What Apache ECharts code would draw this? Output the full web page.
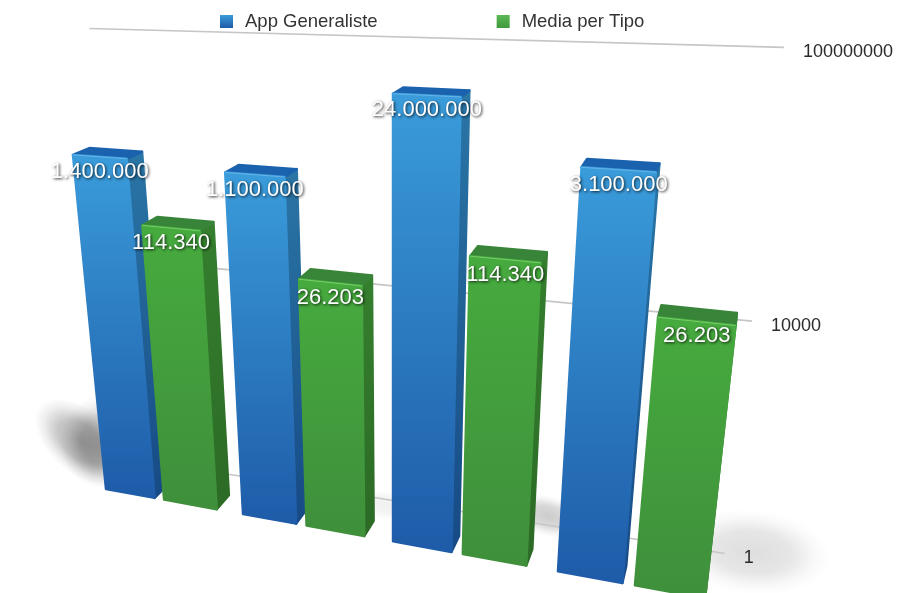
<!DOCTYPE html>
<html>
<head>
<meta charset="utf-8">
<style>html,body{margin:0;padding:0;background:#fff}#chart{width:897px;height:593px}</style>
<script src="https://cdn.jsdelivr.net/npm/echarts@6/dist/echarts.min.js"></script>
</head>
<body>
<div id="chart"></div>
<script>
// Values per group; the groups have no names of their own.
const categories = ['1', '2', '3', '4'];
const appGeneraliste = [1400000, 1100000, 24000000, 3100000];
const mediaPerTipo = [114340, 26203, 114340, 26203];
const tickValues = [1, 10000, 100000000];
const tickLabels = ['1', '10000', '100000000'];

const FONT = '"Liberation Sans", Arial, sans-serif';
const BAND_MARGIN = 0.0925;

// Perspective camera: maps (band position, axis height, depth) to the page.
function project(t, v, d) {
  const s = t - BAND_MARGIN;
  const X = 126.5 * s - 52.8 * v + 106 + 16.5 * d;
  const Y = 2.7 * s - 455.7 * v + 489 - 3 * d;
  const W = 1 - 0.0433 * s - 0.1343 * v + 0.021 * d;
  return [X / W, Y / W];
}

function toPlane(params, p) {
  const c = params.coordSys;
  return [
    (p[0] - c.x) / c.width * categories.length,
    1 - (p[1] - c.y) / c.height
  ];
}

function linear(top, bottom) {
  return new echarts.graphic.LinearGradient(0, 0, 0, 1, [
    { offset: 0, color: top },
    { offset: 1, color: bottom }
  ]);
}

function formatValue(n) {
  return String(n).replace(/\B(?=(\d{3})+$)/g, '.');
}

// Builds one 3D bar: right side, top, front face, then its value label.
function barRenderer(from, to, look, order) {
  return function (params, api) {
    const idx = api.value(0);
    const value = api.value(1);
    const topPt = toPlane(params, api.coord([idx, value]));
    const basePt = toPlane(params, api.coord([idx, 1]));
    const l = topPt[0] - 0.5 + from;
    const r = topPt[0] - 0.5 + to;
    const vt = topPt[1];
    const vb = basePt[1];
    const ftl = project(l, vt, 0), ftr = project(r, vt, 0);
    const fbl = project(l, vb, 0), fbr = project(r, vb, 0);
    const btl = project(l, vt, 1), btr = project(r, vt, 1);
    const bbr = project(r, vb, 1);
    const face = (points, fill, z2) => ({
      type: 'polygon',
      z2: z2,
      shape: { points: points },
      style: { fill: fill, stroke: fill, lineWidth: 2.5, lineJoin: 'round' }
    });
    return {
      type: 'group',
      children: [
        face([ftr, btr, bbr, fbr], linear(look.sideTop, look.sideBottom), order),
        face([ftl, btl, btr, ftr], look.cap, order),
        face([ftl, ftr, fbr, fbl], linear(look.frontTop, look.frontBottom), order),
        {
          type: 'line',
          z2: order,
          shape: { x1: ftl[0], y1: ftl[1], x2: ftr[0], y2: ftr[1] },
          style: { stroke: look.edge, lineWidth: 1 }
        },
        {
          type: 'text',
          z2: 20,
          style: {
            text: formatValue(value),
            x: (ftl[0] + ftr[0]) / 2,
            y: (ftl[1] + ftr[1]) / 2 + 15,
            align: 'center',
            verticalAlign: 'middle',
            font: '22px ' + FONT,
            fill: '#ffffff',
            textShadowColor: 'rgba(0,0,0,0.85)',
            textShadowBlur: 3,
            textShadowOffsetX: 1,
            textShadowOffsetY: 1
          }
        }
      ]
    };
  };
}

// Grid lines run along the rear wall, with their tick label past the right end.
function wallRenderer(params, api) {
  const value = api.value(0);
  const pt = toPlane(params, api.coord([0, value]));
  const n = categories.length;
  const a = project(0.02, pt[1], 2.3);
  const b = project(n - 0.01, pt[1], 2.7);
  return {
    type: 'group',
    children: [
      {
        type: 'line',
        shape: { x1: a[0], y1: a[1], x2: b[0], y2: b[1] },
        style: { stroke: '#c6c6c6', lineWidth: 1.6 }
      },
      {
        type: 'text',
        style: {
          text: tickLabels[params.dataIndex],
          x: b[0] + 19,
          y: b[1] + 5,
          align: 'left',
          verticalAlign: 'middle',
          font: '18px ' + FONT,
          fill: '#2b2b2b'
        }
      }
    ]
  };
}

const blueLook = {
  frontTop: '#3a9cdb', frontBottom: '#1e5ba8',
  sideTop: '#2a76a6', sideBottom: '#174a85',
  cap: '#1b62ae', edge: 'rgba(120,190,235,0.7)'
};
const greenLook = {
  frontTop: '#46ab3e', frontBottom: '#3f8f3b',
  sideTop: '#357f2e', sideBottom: '#2c6a26',
  cap: '#38853a', edge: 'rgba(130,215,115,0.8)'
};

// Soft patches of shadow on the floor, painted under the bars.
function softShadow(x, y, rx, ry, rotation, alpha) {
  return {
    type: 'circle',
    x: x, y: y, scaleX: rx, scaleY: ry, rotation: rotation,
    z: -1,
    silent: true,
    shape: { cx: 0, cy: 0, r: 1 },
    style: {
      fill: new echarts.graphic.RadialGradient(0.5, 0.5, 0.5, [
        { offset: 0, color: 'rgba(0,0,0,' + alpha + ')' },
        { offset: 0.5, color: 'rgba(0,0,0,' + alpha * 0.75 + ')' },
        { offset: 0.8, color: 'rgba(0,0,0,' + alpha * 0.22 + ')' },
        { offset: 1, color: 'rgba(0,0,0,0)' }
      ])
    }
  };
}

const chart = echarts.init(document.getElementById('chart'), null, { renderer: 'canvas' });
chart.setOption({
  animation: false,
  backgroundColor: '#ffffff',
  graphic: [
    softShadow(82, 442, 56, 32, -0.7, 0.3),
    softShadow(102, 442, 42, 46, 0, 0.26),
    softShadow(548, 516, 40, 20, -0.25, 0.2),
    softShadow(385, 505, 32, 15, -0.2, 0.06),
    softShadow(752, 552, 78, 42, -0.1, 0.13)
  ],
  legend: {
    left: 215,
    top: 7,
    itemWidth: 13,
    itemHeight: 13,
    itemGap: 119,
    textStyle: { fontFamily: FONT, fontSize: 18.5, color: '#333333', padding: [5, 0, 0, 7] },
    data: [
      { name: 'App Generaliste', icon: 'rect', itemStyle: { color: linear('#3a9cdb', '#1e5ba8') } },
      { name: 'Media per Tipo', icon: 'rect', itemStyle: { color: linear('#5cb955', '#3f9a3b') } }
    ]
  },
  grid: { left: 0, right: 0, top: 0, bottom: 0 },
  xAxis: { type: 'category', data: categories, show: false },
  yAxis: { type: 'log', min: 1, max: 100000000, show: false },
  series: [
    {
      name: 'Griglia',
      type: 'custom',
      silent: true,
      z: 1,
      renderItem: wallRenderer,
      encode: { y: 0 },
      data: tickValues.map(v => [v])
    },
    {
      name: 'App Generaliste',
      type: 'custom',
      z: 2,
      renderItem: barRenderer(BAND_MARGIN, BAND_MARGIN + 0.365, blueLook, 1),
      encode: { x: 0, y: 1 },
      data: appGeneraliste.map((v, i) => [i, v])
    },
    {
      name: 'Media per Tipo',
      type: 'custom',
      z: 2,
      renderItem: barRenderer(BAND_MARGIN + 0.435, BAND_MARGIN + 0.815, greenLook, 2),
      encode: { x: 0, y: 1 },
      data: mediaPerTipo.map((v, i) => [i, v])
    }
  ]
});
</script>
</body>
</html>
